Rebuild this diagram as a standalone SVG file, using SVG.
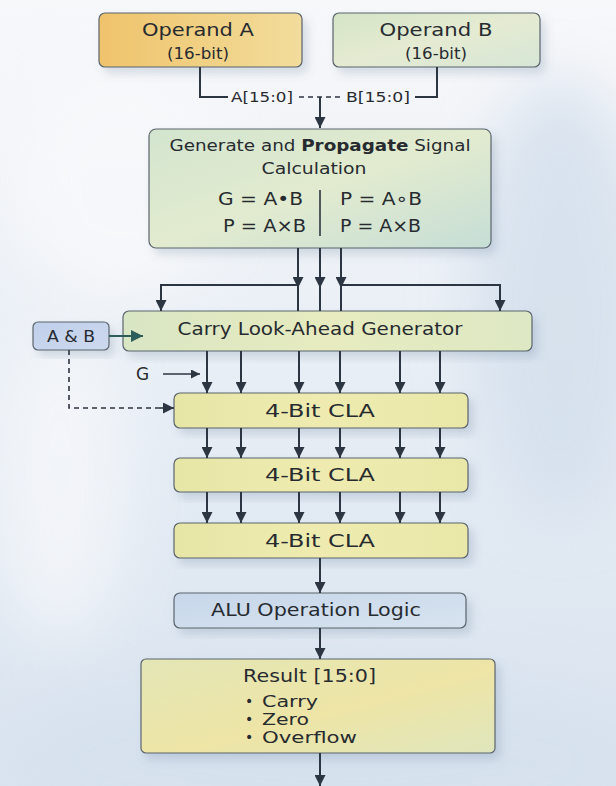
<svg xmlns="http://www.w3.org/2000/svg" width="616" height="786" viewBox="0 0 616 786">
  <defs>
    <style>
      .box { stroke: #5b646d; stroke-width: 1.2; filter: url(#shadow); }
      .lbl { font-family: "DejaVu Sans", "Open Sans", sans-serif; fill: #272b30; }
      .mid { text-anchor: middle; }
      .wire { fill: none; stroke: #2c3542; stroke-width: 2; }
      .arrow { fill: none; stroke: #2c3542; stroke-width: 2; marker-end: url(#head); }
      .dash { fill: none; stroke: #2c3542; stroke-width: 1.6; stroke-dasharray: 5 4; }
    </style>
    <marker id="head" viewBox="0 0 10 10" refX="10" refY="5" markerWidth="11" markerHeight="11" markerUnits="userSpaceOnUse" orient="auto">
      <path d="M0,0 L10,5 L0,10 z" fill="#2c3542"/>
    </marker>
    <marker id="headTeal" viewBox="0 0 10 10" refX="10" refY="5" markerWidth="13" markerHeight="12" markerUnits="userSpaceOnUse" orient="auto">
      <path d="M0,0 L10,5 L0,10 z" fill="#2d5d58"/>
    </marker>
    <marker id="headSmall" viewBox="0 0 10 10" refX="10" refY="5" markerWidth="9" markerHeight="9" markerUnits="userSpaceOnUse" orient="auto">
      <path d="M0,0 L10,5 L0,10 z" fill="#2c3542"/>
    </marker>
    <filter id="shadow" x="-10%" y="-20%" width="130%" height="150%">
      <feDropShadow dx="5" dy="6" stdDeviation="5" flood-color="#5f7590" flood-opacity="0.22"/>
    </filter>
    <filter id="soft" x="-50%" y="-50%" width="200%" height="200%">
      <feGaussianBlur stdDeviation="30"/>
    </filter>
    <linearGradient id="bg" x1="0" y1="0" x2="0" y2="1">
      <stop offset="0" stop-color="#f7f8fa"/>
      <stop offset="0.3" stop-color="#eef2f7"/>
      <stop offset="0.65" stop-color="#e2eaf3"/>
      <stop offset="1" stop-color="#dae4ef"/>
    </linearGradient>
    <linearGradient id="gOpA" x1="0" y1="0" x2="1" y2="0">
      <stop offset="0" stop-color="#efc36c"/>
      <stop offset="0.6" stop-color="#f1d388"/>
      <stop offset="1" stop-color="#f2dc9c"/>
    </linearGradient>
    <linearGradient id="gOpB" x1="0" y1="0" x2="1" y2="1">
      <stop offset="0" stop-color="#d4e4c6"/>
      <stop offset="0.5" stop-color="#e5ebd2"/>
      <stop offset="1" stop-color="#d6e6d6"/>
    </linearGradient>
    <linearGradient id="gGen" x1="0" y1="0" x2="1" y2="1">
      <stop offset="0" stop-color="#d3e5cf"/>
      <stop offset="0.5" stop-color="#e2ebcf"/>
      <stop offset="1" stop-color="#c6ded6"/>
    </linearGradient>
    <linearGradient id="gCarry" x1="0" y1="0" x2="1" y2="0">
      <stop offset="0" stop-color="#d9e6c4"/>
      <stop offset="0.5" stop-color="#e7ebbf"/>
      <stop offset="1" stop-color="#dde8c4"/>
    </linearGradient>
    <linearGradient id="gCla" x1="0" y1="0" x2="1" y2="0">
      <stop offset="0" stop-color="#e6e6a6"/>
      <stop offset="0.5" stop-color="#efebb0"/>
      <stop offset="1" stop-color="#e9e8a8"/>
    </linearGradient>
    <linearGradient id="gAlu" x1="0" y1="0" x2="1" y2="1">
      <stop offset="0" stop-color="#c7d7ea"/>
      <stop offset="1" stop-color="#d7e3ef"/>
    </linearGradient>
    <linearGradient id="gAB" x1="0" y1="0" x2="1" y2="1">
      <stop offset="0" stop-color="#c0cfeb"/>
      <stop offset="1" stop-color="#cdd9ee"/>
    </linearGradient>
    <linearGradient id="gRes" x1="0" y1="0" x2="1" y2="1">
      <stop offset="0" stop-color="#e3e6b6"/>
      <stop offset="0.55" stop-color="#eee5a6"/>
      <stop offset="1" stop-color="#dfe6bc"/>
    </linearGradient>
  </defs>

  <!-- backdrop wash -->
  <rect x="0" y="0" width="616" height="786" fill="url(#bg)"/>
  <g filter="url(#soft)" opacity="0.8">
    <ellipse cx="560" cy="300" rx="90" ry="220" fill="#d3dfec"/>
    <ellipse cx="60" cy="480" rx="70" ry="160" fill="#f5f7fa"/>
    <ellipse cx="330" cy="760" rx="330" ry="90" fill="#d6e1ee"/>
    <ellipse cx="120" cy="180" rx="110" ry="120" fill="#f8f9fb"/>
  </g>

  <g id="operand-a">
    <rect class="box" x="99" y="13" width="203" height="54" rx="6" fill="url(#gOpA)"/>
    <text class="lbl mid" x="198" y="36" font-size="17" textLength="112" lengthAdjust="spacingAndGlyphs">Operand A</text>
    <text class="lbl mid" x="198" y="59" font-size="15" textLength="62" lengthAdjust="spacingAndGlyphs">(16-bit)</text>
  </g>

  <g id="operand-b">
    <rect class="box" x="333" y="13" width="207" height="54" rx="6" fill="url(#gOpB)"/>
    <text class="lbl mid" x="436" y="36" font-size="17" textLength="113" lengthAdjust="spacingAndGlyphs">Operand B</text>
    <text class="lbl mid" x="436" y="59" font-size="15" textLength="62" lengthAdjust="spacingAndGlyphs">(16-bit)</text>
  </g>

  <g id="gen-prop">
    <rect class="box" x="149" y="129" width="342" height="119" rx="7" fill="url(#gGen)"/>
    <text class="lbl mid" x="320" y="151" font-size="16" textLength="301" lengthAdjust="spacingAndGlyphs">Generate and <tspan font-weight="bold">Propagate</tspan> Signal</text>
    <text class="lbl mid" x="314" y="174" font-size="16" textLength="105" lengthAdjust="spacingAndGlyphs">Calculation</text>
    <text class="lbl" x="218" y="205" font-size="18" textLength="85" lengthAdjust="spacingAndGlyphs">G = A•B</text>
    <text class="lbl" x="340" y="205" font-size="18" textLength="82" lengthAdjust="spacingAndGlyphs">P = A∘B</text>
    <text class="lbl" x="223" y="232" font-size="18" textLength="83" lengthAdjust="spacingAndGlyphs">P = A×B</text>
    <text class="lbl" x="340" y="232" font-size="18" textLength="81" lengthAdjust="spacingAndGlyphs">P = A×B</text>
    <line x1="320" y1="190" x2="320" y2="236" stroke="#2c3542" stroke-width="1.6"/>
  </g>

  <g id="a-and-b">
    <rect class="box" x="33" y="322" width="76" height="28" rx="5" fill="url(#gAB)"/>
    <text class="lbl mid" x="71" y="342" font-size="16" textLength="48" lengthAdjust="spacingAndGlyphs">A &amp; B</text>
  </g>

  <g id="carry-gen">
    <rect class="box" x="123" y="311" width="409" height="40" rx="6" fill="url(#gCarry)"/>
    <text class="lbl mid" x="320" y="335" font-size="17" textLength="285" lengthAdjust="spacingAndGlyphs">Carry Look-Ahead Generator</text>
  </g>

  <g id="g-input">
    <text class="lbl" x="136" y="380" font-size="17">G</text>
  </g>

  <g id="cla-1">
    <rect class="box" x="174" y="393" width="294" height="35" rx="6" fill="url(#gCla)"/>
    <text class="lbl mid" x="320" y="417" font-size="17" textLength="110" lengthAdjust="spacingAndGlyphs">4-Bit CLA</text>
  </g>

  <g id="cla-2">
    <rect class="box" x="174" y="458" width="294" height="34" rx="6" fill="url(#gCla)"/>
    <text class="lbl mid" x="320" y="481" font-size="17" textLength="110" lengthAdjust="spacingAndGlyphs">4-Bit CLA</text>
  </g>

  <g id="cla-3">
    <rect class="box" x="174" y="523" width="294" height="35" rx="6" fill="url(#gCla)"/>
    <text class="lbl mid" x="320" y="547" font-size="17" textLength="110" lengthAdjust="spacingAndGlyphs">4-Bit CLA</text>
  </g>

  <g id="alu">
    <rect class="box" x="174" y="593" width="292" height="35" rx="6" fill="url(#gAlu)"/>
    <text class="lbl mid" x="316" y="616" font-size="17" textLength="210" lengthAdjust="spacingAndGlyphs">ALU Operation Logic</text>
  </g>

  <g id="result">
    <rect class="box" x="141" y="659" width="354" height="94" rx="5" fill="url(#gRes)"/>
    <text class="lbl" x="243" y="682" font-size="17" textLength="133" lengthAdjust="spacingAndGlyphs">Result [15:0]</text>
    <text class="lbl" x="245" y="706" font-size="14">•</text>
    <text class="lbl" x="262" y="707" font-size="15" textLength="56" lengthAdjust="spacingAndGlyphs">Carry</text>
    <text class="lbl" x="245" y="724" font-size="14">•</text>
    <text class="lbl" x="262" y="725" font-size="15" textLength="47" lengthAdjust="spacingAndGlyphs">Zero</text>
    <text class="lbl" x="245" y="742" font-size="14">•</text>
    <text class="lbl" x="262" y="743" font-size="15" textLength="95" lengthAdjust="spacingAndGlyphs">Overflow</text>
  </g>

  <!-- connectors, drawn over the boxes -->
  <g id="connectors">
    <path class="wire" d="M200,67 V97 H228"/>
    <path class="dash" d="M299,97 H343"/>
    <path class="wire" d="M415,97 H437 V67"/>
    <path class="arrow" d="M320,97 V128"/>

    <path class="arrow" d="M298,248 V288"/>
    <path class="arrow" d="M320,248 V288"/>
    <path class="arrow" d="M341,248 V288"/>
    <path class="wire" d="M298,286 V311 M320,286 V311 M341,286 V311"/>
    <path class="wire" d="M298,285 H161 M341,285 H500"/>
    <path class="arrow" d="M161,284 V311"/>
    <path class="arrow" d="M500,284 V311"/>

    <path d="M109,336 H143" fill="none" stroke="#2d5d58" stroke-width="2" marker-end="url(#headTeal)"/>
    <path class="dash" d="M69,350 V408 H164"/>
    <path d="M160,408 H174" fill="none" stroke="#2c3542" stroke-width="1.6" marker-end="url(#head)"/>
    <path d="M163,374 H200" fill="none" stroke="#2c3542" stroke-width="1.6" marker-end="url(#headSmall)"/>

    <path class="arrow" d="M207,351 V393"/>
    <path class="arrow" d="M241,351 V393"/>
    <path class="arrow" d="M299,351 V393"/>
    <path class="arrow" d="M340,351 V393"/>
    <path class="arrow" d="M400,351 V393"/>
    <path class="arrow" d="M440,351 V393"/>

    <path class="arrow" d="M207,428 V458"/>
    <path class="arrow" d="M241,428 V458"/>
    <path class="arrow" d="M299,428 V458"/>
    <path class="arrow" d="M340,428 V458"/>
    <path class="arrow" d="M400,428 V458"/>
    <path class="arrow" d="M440,428 V458"/>

    <path class="arrow" d="M207,492 V523"/>
    <path class="arrow" d="M241,492 V523"/>
    <path class="arrow" d="M299,492 V523"/>
    <path class="arrow" d="M340,492 V523"/>
    <path class="arrow" d="M400,492 V523"/>
    <path class="arrow" d="M440,492 V523"/>

    <path class="arrow" d="M320,558 V593"/>
    <path class="arrow" d="M320,628 V659"/>
    <path class="arrow" d="M320,753 V786"/>
  </g>

  <!-- bus labels -->
  <g id="bus-labels">
    <text class="lbl" x="231" y="102" font-size="14" textLength="62" lengthAdjust="spacingAndGlyphs">A[15:0]</text>
    <text class="lbl" x="346" y="102" font-size="14" textLength="64" lengthAdjust="spacingAndGlyphs">B[15:0]</text>
  </g>
</svg>
